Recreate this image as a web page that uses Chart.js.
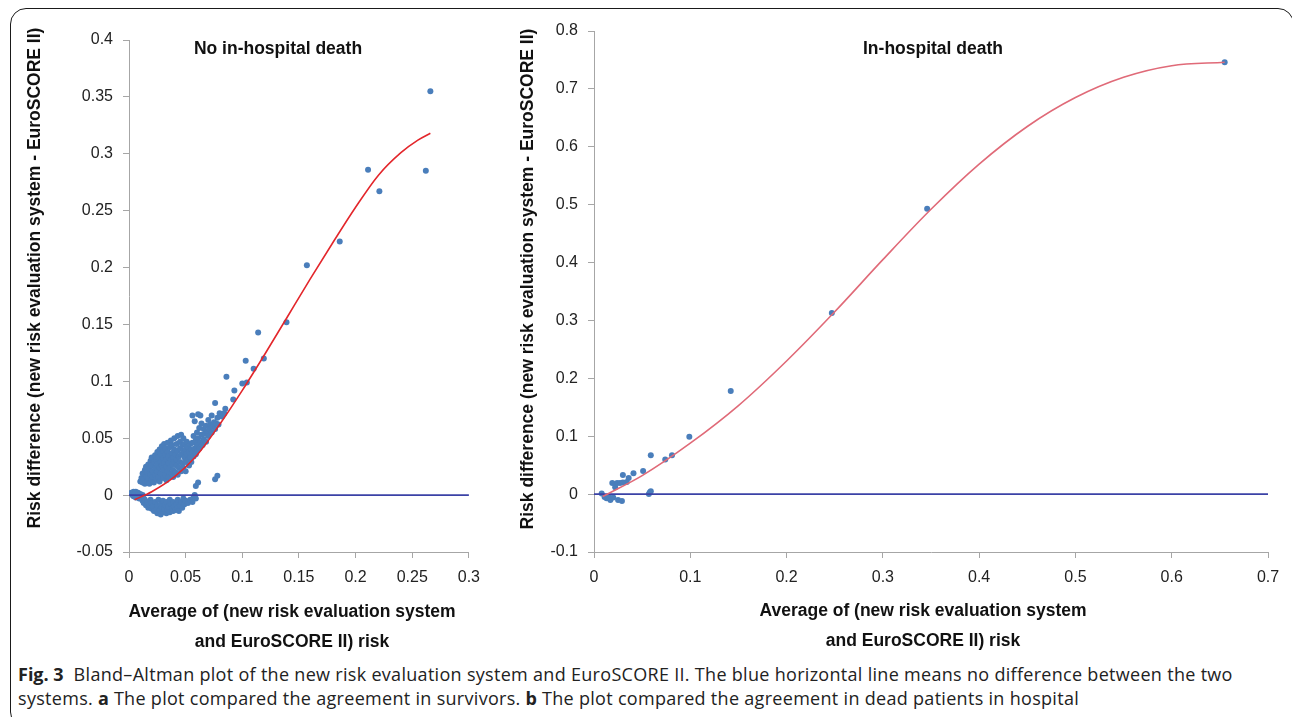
<!DOCTYPE html>
<html>
<head>
<meta charset="utf-8">
<script src="https://cdn.jsdelivr.net/npm/chart.js@4.4.1/dist/chart.umd.min.js"></script>
<style>
  html, body { margin: 0; padding: 0; background: #fff; }
  body { width: 1292px; height: 717px; position: relative; overflow: hidden; }
  .frame { position: absolute; left: 10px; top: 8px; width: 1284px; height: 720px;
           border: 1.5px solid #1a1a1a; border-radius: 16px; box-sizing: border-box; }
  canvas { position: absolute; top: 0; }
  #left { left: 10px; }
  #right { left: 500px; }
  .caption { position: absolute; left: 18px; top: 662px; width: 1265px;
             font-family: 'Open Sans', 'Noto Sans', sans-serif; font-size: 18px; letter-spacing: 0.3px;
             line-height: 24px; color: #222; white-space: nowrap; }
  .caption b { font-weight: 700; letter-spacing: 0; }
</style>
</head>
<body>
<div class="frame"></div>
<canvas id="left" width="480" height="657"></canvas>
<canvas id="right" width="790" height="657"></canvas>
<div class="caption"><b>Fig. 3</b>&nbsp;&nbsp;Bland–Altman plot of the new risk evaluation system and EuroSCORE II. The blue horizontal line means no difference between the two<br>systems. <b>a</b> The plot compared the agreement in survivors. <b>b</b> The plot compared the agreement in dead patients in hospital</div>
<script>
// ---- data ----
const yTitle = 'Risk difference (new risk evaluation system - EuroSCORE II)';
const xTitle = ['Average of (new risk evaluation system', 'and EuroSCORE II) risk'];

// panel a: survivors
const survivorTicksX = [0, 0.05, 0.1, 0.15, 0.2, 0.25, 0.3];
const survivorTicksY = [-0.05, 0, 0.05, 0.1, 0.15, 0.2, 0.25, 0.3, 0.35, 0.4];
const survivorPoints = [
  // near zero, far left
  [0.002,0.002],[0.003,0.000],[0.004,0.003],[0.004,-0.001],[0.005,0.001],[0.006,0.003],[0.006,-0.002],
  [0.007,0.000],[0.008,0.002],[0.009,-0.001],[0.009,-0.003],[0.010,0.001],[0.011,-0.002],[0.012,0.000],[0.013,-0.003],
  // band below zero
  [0.012,-0.005],[0.013,-0.007],[0.014,-0.004],[0.015,-0.009],[0.016,-0.006],[0.017,-0.011],[0.018,-0.008],
  [0.019,-0.004],[0.020,-0.012],[0.020,-0.007],
  [0.021,-0.010],[0.022,-0.014],[0.023,-0.006],[0.024,-0.012],[0.025,-0.016],[0.025,-0.009],[0.026,-0.004],
  [0.027,-0.013],[0.028,-0.017],[0.028,-0.008],[0.029,-0.011],[0.030,-0.015],[0.030,-0.005],
  [0.031,-0.012],[0.032,-0.009],[0.033,-0.016],[0.033,-0.006],[0.034,-0.013],[0.035,-0.010],[0.036,-0.015],
  [0.036,-0.004],[0.037,-0.008],[0.038,-0.012],[0.039,-0.014],[0.039,-0.006],[0.040,-0.010],
  [0.041,-0.013],[0.042,-0.008],[0.043,-0.011],[0.043,-0.004],[0.044,-0.014],[0.045,-0.009],[0.046,-0.006],
  [0.047,-0.011],[0.048,-0.003],[0.049,-0.008],[0.050,-0.005],
  [0.052,-0.007],[0.054,-0.004],[0.056,-0.006],[0.057,-0.002],[0.058,0.000],[0.059,-0.003],
  // band above zero
  [0.010,0.012],[0.011,0.015],[0.012,0.011],[0.012,0.019],[0.013,0.014],[0.014,0.022],[0.014,0.010],[0.015,0.017],[0.015,0.025],
  [0.016,0.012],[0.016,0.020],[0.017,0.027],[0.017,0.015],[0.018,0.023],[0.018,0.010],[0.019,0.030],[0.019,0.018],
  [0.020,0.013],[0.020,0.026],[0.020,0.033],
  [0.021,0.021],[0.021,0.016],[0.022,0.029],[0.022,0.011],[0.023,0.035],[0.023,0.024],[0.023,0.018],[0.024,0.031],
  [0.024,0.014],[0.025,0.038],[0.025,0.027],[0.025,0.021],
  [0.026,0.033],[0.026,0.016],[0.027,0.040],[0.027,0.024],[0.027,0.012],[0.028,0.029],[0.028,0.036],[0.028,0.019],
  [0.029,0.043],[0.029,0.026],[0.030,0.015],[0.030,0.032],[0.030,0.039],[0.030,0.022],
  [0.031,0.028],[0.031,0.045],[0.032,0.018],[0.032,0.035],[0.032,0.041],[0.033,0.025],[0.033,0.013],[0.033,0.031],
  [0.034,0.038],[0.034,0.021],[0.034,0.046],[0.035,0.028],[0.035,0.016],[0.035,0.034],
  [0.036,0.042],[0.036,0.024],[0.037,0.031],[0.037,0.048],[0.037,0.019],[0.038,0.037],[0.038,0.027],[0.038,0.044],
  [0.039,0.016],[0.039,0.033],[0.039,0.022],[0.040,0.040],[0.040,0.050],[0.040,0.029],
  [0.041,0.036],[0.041,0.020],[0.042,0.045],[0.042,0.026],[0.042,0.031],[0.043,0.052],[0.043,0.039],[0.043,0.018],
  [0.044,0.034],[0.044,0.024],[0.045,0.047],[0.045,0.029],[0.045,0.041],
  [0.046,0.053],[0.046,0.036],[0.046,0.021],[0.047,0.044],[0.047,0.028],[0.048,0.039],[0.048,0.050],[0.048,0.024],
  [0.049,0.033],[0.049,0.045],[0.050,0.029],[0.050,0.040],[0.050,0.021],
  [0.051,0.036],[0.051,0.047],[0.052,0.031],[0.052,0.042],[0.053,0.026],[0.053,0.038],[0.054,0.045],[0.054,0.033],
  [0.055,0.040],[0.055,0.029],
  [0.056,0.037],[0.056,0.046],[0.056,0.070],[0.057,0.034],[0.057,0.052],[0.058,0.041],[0.058,0.065],[0.059,0.036],
  [0.059,0.048],[0.060,0.044],[0.060,0.055],[0.060,0.039],
  [0.061,0.050],[0.061,0.071],[0.062,0.041],[0.062,0.059],[0.063,0.046],[0.063,0.070],[0.064,0.053],[0.064,0.063],
  [0.065,0.044],[0.066,0.049],[0.066,0.058],[0.067,0.054],[0.068,0.047],[0.068,0.061],[0.069,0.056],[0.070,0.052],[0.070,0.066],
  [0.071,0.058],[0.072,0.062],[0.073,0.070],[0.073,0.055],[0.074,0.060],[0.075,0.064],[0.076,0.081],[0.076,0.058],
  [0.077,0.063],[0.078,0.068],[0.079,0.062],[0.080,0.072],[0.082,0.069],
  // scattered
  [0.059,0.008],[0.061,0.011],[0.076,0.014],[0.078,0.017],[0.085,0.076],[0.084,0.072],[0.086,0.104],[0.092,0.084],
  [0.093,0.092],[0.100,0.098],[0.104,0.099],[0.103,0.118],[0.110,0.111],[0.114,0.143],[0.119,0.120],[0.139,0.152],
  [0.157,0.202],[0.186,0.223],[0.211,0.286],[0.221,0.267],[0.262,0.285],[0.266,0.355]
];
const survivorTrendX = [0.005, 0.02, 0.04, 0.06, 0.08, 0.10, 0.12, 0.14, 0.16, 0.18, 0.20, 0.22, 0.24, 0.255, 0.266];
const survivorTrendY = [-0.004, 0.003, 0.016, 0.035, 0.062, 0.092, 0.124, 0.157, 0.190, 0.222, 0.253, 0.281, 0.301, 0.312, 0.318];

// panel b: in-hospital death
const deathTicksX = [0, 0.1, 0.2, 0.3, 0.4, 0.5, 0.6, 0.7];
const deathTicksY = [-0.1, 0, 0.1, 0.2, 0.3, 0.4, 0.5, 0.6, 0.7, 0.8];
const deathPoints = [
  [0.655,0.746],[0.346,0.493],[0.247,0.313],[0.142,0.178],[0.099,0.099],[0.081,0.067],[0.074,0.060],[0.059,0.067],
  [0.051,0.040],[0.041,0.036],[0.030,0.033],[0.036,0.028],[0.034,0.021],[0.019,0.019],[0.024,0.019],[0.027,0.019],
  [0.030,0.020],[0.022,0.012],[0.008,0.001],[0.011,-0.005],[0.013,-0.007],[0.017,-0.010],[0.025,-0.010],[0.029,-0.012],
  [0.059,0.005],[0.057,0.000],[0.058,0.003],[0.015,-0.004],[0.020,-0.006]
];
const deathTrendX = [0.009, 0.05, 0.1, 0.15, 0.2, 0.25, 0.3, 0.35, 0.4, 0.45, 0.5, 0.55, 0.6, 0.655];
const deathTrendY = [-0.004, 0.032, 0.088, 0.153, 0.230, 0.315, 0.405, 0.492, 0.570, 0.635, 0.685, 0.720, 0.740, 0.746];

// ---- drawing ----
const FONT = '"Liberation Sans", Arial, sans-serif';
const AXIS = '#a6a6a6';

// panel heading plus axis titles, placed where the figure has them
const titles = {
  id: 'titles',
  afterDraw(chart, args, o) {
    const { ctx } = chart;
    ctx.save();
    ctx.fillStyle = '#111';
    ctx.textAlign = 'center';
    ctx.textBaseline = 'middle';
    ctx.font = 'bold 17.5px ' + FONT;
    ctx.fillText(o.heading, o.headX, o.headY);
    xTitle.forEach((line, i) => ctx.fillText(line, o.xTitleX, o.xTitleY + i * 30));
    ctx.translate(o.yTitleX, o.yTitleY);
    ctx.rotate(-Math.PI / 2);
    ctx.fillText(yTitle, 0, 0);
    ctx.restore();
  }
};

function axis(ticks, extra) {
  return Object.assign({
    type: 'linear',
    min: ticks[0], max: ticks[ticks.length - 1],
    afterBuildTicks: (s) => { s.ticks = ticks.map(v => ({ value: v })); },
    ticks: { color: '#222', font: { family: FONT, size: 16 }, padding: 10, callback: (v) => String(v) },
    grid: { display: true, drawOnChartArea: false, drawTicks: true, tickLength: 6, color: AXIS },
    border: { display: true, color: AXIS, width: 1 }
  }, extra);
}

function makeChart(id, o) {
  const pts = o.points.map(p => ({ x: p[0], y: p[1] }));
  const trend = o.trendX.map((x, i) => ({ x, y: o.trendY[i] }));
  const zero = [{ x: o.xTicks[0], y: 0 }, { x: o.xTicks[o.xTicks.length - 1], y: 0 }];
  return new Chart(document.getElementById(id), {
    type: 'scatter',
    data: {
      datasets: [
        { data: trend, showLine: true, borderColor: o.trendColor, borderWidth: 1.6, pointRadius: 0, cubicInterpolationMode: 'monotone', order: 1 },
        { data: zero, showLine: true, borderColor: '#3b42a6', borderWidth: 1.6, pointRadius: 0, order: 2 },
        { data: pts, backgroundColor: '#4a7ebb', borderColor: '#4a7ebb', borderWidth: 0, pointRadius: 3, order: 3 }
      ]
    },
    options: {
      responsive: false,
      animation: false,
      layout: { padding: o.padding },
      plugins: {
        legend: { display: false },
        tooltip: { enabled: false },
        titles: o.titles
      },
      scales: {
        x: axis(o.xTicks, { afterFit: (s) => { s.height = 105; } }),
        y: axis(o.yTicks, { afterFit: (s) => { s.width = o.yWidth; } })
      }
    },
    plugins: [titles]
  });
}

makeChart('left', {
  points: survivorPoints, trendX: survivorTrendX, trendY: survivorTrendY,
  xTicks: survivorTicksX, yTicks: survivorTicksY, trendColor: '#e3262b',
  padding: { top: 40, right: 17, left: 0, bottom: 0 }, yWidth: 119,
  titles: { heading: 'No in-hospital death', headX: 268, headY: 49,
            xTitleX: 282, xTitleY: 612, yTitleX: 25, yTitleY: 278 }
});

makeChart('right', {
  points: deathPoints, trendX: deathTrendX, trendY: deathTrendY,
  xTicks: deathTicksX, yTicks: deathTicksY, trendColor: '#e06a78',
  padding: { top: 31, right: 22, left: 0, bottom: 0 }, yWidth: 94,
  titles: { heading: 'In-hospital death', headX: 433, headY: 49,
            xTitleX: 423, xTitleY: 611, yTitleX: 28, yTitleY: 279 }
});
</script>
</body>
</html>
